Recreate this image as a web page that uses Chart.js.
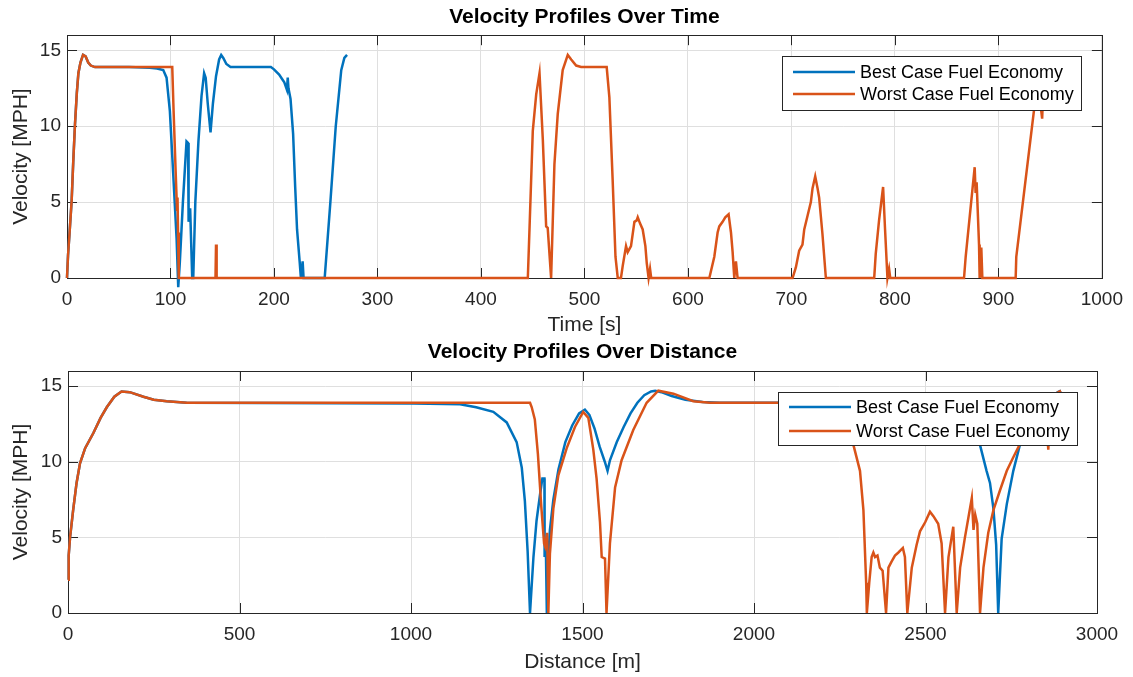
<!DOCTYPE html>
<html>
<head>
<meta charset="utf-8">
<script src="https://cdn.jsdelivr.net/npm/chart.js@4.4.1/dist/chart.umd.min.js"></script>
<style>
  html, body { margin: 0; padding: 0; background: #ffffff; }
  #wrap { position: relative; width: 1133px; height: 677px; background: #fff; }
  #c1 { position: absolute; left: 0; top: 0; }
  #c2 { position: absolute; left: 0; top: 338px; }
</style>
</head>
<body>
<div id="wrap">
  <canvas id="c1" width="1133" height="338"></canvas>
  <canvas id="c2" width="1133" height="339"></canvas>
</div>
<script>
// ---------------- DATA ----------------
const seriesLabels = ['Best Case Fuel Economy', 'Worst Case Fuel Economy'];

// Velocity over time – best case
const timeBestT = [
  0, 1, 2.5, 4.5, 6, 7.7, 9.5, 11, 13, 15.5,
  18, 20.5, 23, 27, 40, 60, 80, 87, 93, 96.2,
  99.4, 102.6, 105.9, 107.5, 109, 112, 115.5, 117, 117.5, 119,
  121, 122, 124, 127, 130, 132.5, 134, 136, 138.7, 141,
  144, 147, 149, 151, 154, 158, 165, 197, 200, 205,
  208, 210, 212.5, 213.3, 214, 216, 218.5, 220.5, 222.3, 224.8,
  226, 227.7, 228.6, 249, 254.5, 259.7, 265, 268, 270.6
];
const timeBestV = [
  0, 1.5, 3, 5.1, 7.6, 10.1, 12.2, 13.5, 14.2, 14.7,
  14.6, 14.2, 14.0, 13.9, 13.9, 13.9, 13.85, 13.8, 13.7, 13.2,
  11, 6.9, 2.6, -0.6, 1, 5, 9.0, 8.9, 3.7, 4.6,
  0, 0, 5, 9, 12, 13.5, 13.2, 11.5, 9.6, 11.5,
  13.3, 14.4, 14.7, 14.5, 14.1, 13.9, 13.9, 13.9, 13.75, 13.4,
  13.1, 12.9, 12.4, 13.2, 12.5, 11.8, 9.5, 6, 3.2, 1.1,
  0, 1.1, 0, 0, 5, 10, 13.7, 14.5, 14.7
];

// Velocity over time – worst case
const timeWorstT = [
  0, 1, 2.5, 4.5, 6, 7.7, 9.5, 11, 13, 15.5,
  18, 20.5, 23, 27, 101.7, 103, 105, 106.3, 106.8, 107.3,
  108, 143.5, 144, 144.6, 445.3, 446.9, 450.1, 453.4, 456.6, 459.8,
  463, 464.5, 467.8, 471, 474.2, 479, 483.9, 487.2, 492, 496.8,
  521.5, 524.1, 527.3, 530, 532.2, 535.3, 537, 540.2, 541.8, 545,
  548.3, 550.5, 551.5, 553.7, 556.3, 558.9, 560.2, 562, 563.4, 564.5,
  620.7, 625.5, 628.7, 630.3, 633.5, 636.1, 639.3, 641.6, 643.2, 644.8,
  646.4, 648, 701.1, 704.3, 707.5, 710.7, 712.4, 715.6, 718.8, 720.4,
  723, 725.3, 726.8, 730, 733.3, 780, 781.5, 784.7, 788.6, 790.5,
  792.8, 794.4, 795.5, 866.8, 868.4, 877.1, 878, 879, 881.3, 881.9,
  883.5, 884.5, 916.7, 917.3, 934.4, 938, 942.3, 944, 950
];
const timeWorstV = [
  0, 1.5, 3, 5.1, 7.6, 10.1, 12.2, 13.5, 14.2, 14.7,
  14.6, 14.2, 14.0, 13.9, 13.9, 11, 7, 4.5, 5.3, 3,
  0, 0, 2.2, 0, 0, 3.2, 9.7, 12.1, 13.5, 9.1,
  3.4, 3.3, 0, 7.5, 10.8, 13.7, 14.7, 14.4, 14.0, 13.9,
  13.9, 11.9, 6.4, 1.4, 0, 0, 0.8, 2.1, 1.7, 2.1,
  3.7, 3.8, 4.0, 3.6, 3.2, 2.1, 1.0, 0, 0.6, 0,
  0, 1.4, 3.0, 3.4, 3.7, 4.0, 4.2, 3.0, 1.7, 0,
  1.1, 0, 0, 0.7, 1.8, 2.2, 3.2, 4.1, 5.0, 5.9,
  6.7, 5.9, 5.3, 2.9, 0, 0, 1.6, 3.8, 6.0, 3.2,
  0, 0.6, 0, 0, 1.4, 7.3, 5.6, 6.3, 2.2, 0,
  2.0, 0, 0, 1.4, 11.05, 13, 10.5, 13.5, 14.6
];

// Velocity over distance – best case
const distBestD = [
  0, 2, 6, 15, 25, 35, 50, 74, 95, 113,
  135, 156, 180, 220, 250, 288, 346, 1007, 1143, 1190,
  1240, 1279, 1308, 1323, 1332, 1340, 1347, 1357, 1366, 1376,
  1383, 1389, 1389.5, 1393, 1396, 1400, 1405, 1415, 1430, 1450,
  1470, 1490, 1507, 1520, 1535, 1550, 1565, 1573, 1580, 1600,
  1620, 1640, 1660, 1680, 1700, 1712, 1730, 1760, 1800, 1850,
  1900, 2450, 2500, 2560, 2600, 2630, 2659, 2678, 2688, 2698,
  2706, 2712, 2722, 2737, 2756, 2775, 2800, 2830, 2860, 2886,
  2895
];
const distBestV = [
  2.2, 3.8, 5, 6.8, 8.6, 9.9, 10.9, 11.9, 12.9, 13.6,
  14.3, 14.65, 14.6, 14.3, 14.1, 14.0, 13.9, 13.85, 13.8, 13.6,
  13.3, 12.6, 11.3, 9.6, 7.4, 4.1, 0, 3.7, 6.1, 7.8,
  8.9, 8.9, 3.7, 4.6, 0, 3.5, 5.5, 7.5, 9.5, 11.3,
  12.4, 13.2, 13.45, 13.1, 12.2, 11, 10, 9.4, 10.1, 11.3,
  12.3, 13.2, 13.9, 14.4, 14.65, 14.7, 14.6, 14.35, 14.1, 13.95,
  13.9, 13.9, 13.7, 13.2, 12.6, 12, 11.1, 9.4, 8.6, 6.9,
  4.5, 0, 4.9, 7.2, 9.4, 11.1, 12.3, 13.5, 14.2, 14.6,
  14.7
];

// Velocity over distance – worst case
const distWorstD = [
  0, 2, 6, 15, 25, 35, 50, 74, 95, 113,
  135, 156, 180, 220, 250, 288, 346, 1347, 1352, 1361,
  1370, 1380, 1388, 1391, 1397, 1400.4, 1405, 1415, 1429.6, 1454,
  1478, 1502, 1517, 1531.5, 1541, 1551, 1556, 1565.6, 1570, 1580,
  1595, 1614, 1648, 1687, 1721, 1765, 1823, 1872, 2250, 2270,
  2290, 2309, 2319, 2327, 2329, 2336, 2343, 2348, 2353, 2360,
  2367, 2375, 2385, 2392, 2401, 2411, 2421, 2434, 2440, 2447,
  2460, 2474, 2484, 2499, 2513, 2523, 2537, 2547, 2557, 2567,
  2581, 2591, 2601, 2615, 2625, 2635, 2640, 2645, 2651, 2659,
  2669, 2683, 2698, 2717, 2737, 2756, 2776, 2800, 2830, 2850,
  2858, 2864, 2880, 2895
];
const distWorstV = [
  2.2, 3.8, 5, 6.8, 8.6, 9.9, 10.9, 11.9, 12.9, 13.6,
  14.3, 14.65, 14.6, 14.3, 14.1, 14.0, 13.9, 13.9, 13.6, 12.8,
  10.5, 7, 4.6, 4.4, 5.3, 0, 3.9, 6.9, 9.1, 10.9,
  12.3, 13.3, 12.9, 10.8, 8.9, 6.0, 3.7, 3.6, 0, 4.6,
  8.3, 10.1, 12.1, 13.9, 14.7, 14.5, 14.0, 13.9, 13.9, 13.3,
  11.1, 9.4, 6.8, 2.0, 0, 2.0, 3.7, 4.0, 3.7, 3.8,
  3.0, 2.8, 0, 3.0, 3.4, 3.8, 4.0, 4.3, 3.7, 0,
  3.0, 4.5, 5.4, 6.0, 6.7, 6.4, 5.9, 4.6, 0, 3.7,
  5.7, 0, 3.0, 5.0, 6.3, 7.6, 5.5, 6.5, 5.9, 0,
  3.0, 5.3, 6.8, 8.1, 9.4, 10.3, 11.2, 12.3, 13.2, 13.5,
  10.8, 13.8, 14.5, 14.7
];

// Tick values
const timeTicks = [0, 100, 200, 300, 400, 500, 600, 700, 800, 900, 1000];
const distTicks = [0, 500, 1000, 1500, 2000, 2500, 3000];
const velTicks = [0, 5, 10, 15];

// ---------------- STYLE ----------------
const BLUE = '#0072BD';
const ORANGE = '#D95319';
const AXIS = '#262626';
const GRID = '#dfdfdf';
const FONT = '"Liberation Sans", Arial, Helvetica, sans-serif';
Chart.defaults.font.family = FONT;

function pts(xs, ys) { return xs.map((x, i) => ({ x: x, y: ys[i] })); }

const boxPlugin = {
  id: 'matlabBox',
  beforeDatasetsDraw(chart) {
    const ctx = chart.ctx, a = chart.chartArea;
    const xs = chart.scales.x, ys = chart.scales.y;
    ctx.save();
    ctx.strokeStyle = AXIS;
    ctx.lineWidth = 1;
    ctx.strokeRect(Math.round(a.left) + 0.5, Math.round(a.top) + 0.5,
                   Math.round(a.right - a.left), Math.round(a.bottom - a.top));
    const L = 10;
    ctx.beginPath();
    xs.ticks.forEach(t => {
      const px = Math.round(xs.getPixelForValue(t.value)) + 0.5;
      ctx.moveTo(px, a.bottom); ctx.lineTo(px, a.bottom - L);
      ctx.moveTo(px, a.top); ctx.lineTo(px, a.top + L);
    });
    ys.ticks.forEach(t => {
      const py = Math.round(ys.getPixelForValue(t.value)) + 0.5;
      ctx.moveTo(a.left, py); ctx.lineTo(a.left + L, py);
      ctx.moveTo(a.right, py); ctx.lineTo(a.right - L, py);
    });
    ctx.stroke();
    ctx.restore();
  }
};

const legendPlugin = {
  id: 'insideLegend',
  afterDatasetsDraw(chart, args, opts) {
    if (!opts || !opts.show) return;
    const ctx = chart.ctx, a = chart.chartArea;
    const w = opts.width, h = opts.height;
    const x = Math.round(a.right - opts.insetRight - w);
    const y = Math.round(a.top + opts.insetTop);
    ctx.save();
    ctx.fillStyle = '#ffffff';
    ctx.fillRect(x, y, w, h);
    ctx.strokeStyle = AXIS;
    ctx.lineWidth = 1;
    ctx.strokeRect(x + 0.5, y + 0.5, w, h);
    const items = [
      { label: seriesLabels[0], color: BLUE },
      { label: seriesLabels[1], color: ORANGE }
    ];
    ctx.font = '18px ' + FONT;
    ctx.textBaseline = 'middle';
    ctx.textAlign = 'left';
    items.forEach((it, i) => {
      const ly = y + opts.rowY[i];
      ctx.strokeStyle = it.color;
      ctx.lineWidth = 2.5;
      ctx.beginPath();
      ctx.moveTo(x + 11, ly);
      ctx.lineTo(x + 73, ly);
      ctx.stroke();
      ctx.fillStyle = '#000000';
      ctx.fillText(it.label, x + 78, ly + 1);
    });
    ctx.restore();
  }
};

function makeChart(canvasId, cfg) {
  return new Chart(document.getElementById(canvasId), {
    type: 'line',
    data: {
      datasets: [
        { label: seriesLabels[0], data: cfg.best, borderColor: BLUE, backgroundColor: BLUE,
          borderWidth: 2.5, pointRadius: 0, tension: 0, order: 2, clip: false },
        { label: seriesLabels[1], data: cfg.worst, borderColor: ORANGE, backgroundColor: ORANGE,
          borderWidth: 2.5, pointRadius: 0, tension: 0, order: 1, clip: false }
      ]
    },
    options: {
      responsive: false,
      animation: false,
      devicePixelRatio: 1,
      events: [],
      layout: { padding: cfg.padding },
      plugins: {
        legend: { display: false },
        tooltip: { enabled: false },
        title: {
          display: true, text: cfg.title, fullSize: false,
          color: '#000000',
          font: { size: 21, weight: 'bold', family: FONT, lineHeight: 1.2 },
          padding: cfg.titlePad
        },
        insideLegend: cfg.legend
      },
      scales: {
        x: {
          type: 'linear', min: cfg.xMin, max: cfg.xMax,
          afterBuildTicks: s => { s.ticks = cfg.xTicks.map(v => ({ value: v })); },
          afterFit: s => { s.height = cfg.xAxisH; },
          ticks: { color: AXIS, font: { size: 19, family: FONT }, padding: cfg.xTickPad,
                   maxRotation: 0, autoSkip: false, callback: v => String(v) },
          grid: { color: GRID, lineWidth: 1, drawTicks: false },
          border: { display: false },
          title: { display: true, text: cfg.xTitle, color: AXIS,
                   font: { size: 21, family: FONT, lineHeight: 1.2 }, padding: { top: 0, bottom: 0 } }
        },
        y: {
          type: 'linear', min: 0, max: 16,
          afterBuildTicks: s => { s.ticks = velTicks.map(v => ({ value: v })); },
          afterFit: s => { s.width = cfg.yAxisW; },
          ticks: { color: AXIS, font: { size: 19, family: FONT }, padding: 6,
                   callback: v => String(v) },
          grid: { color: GRID, lineWidth: 1, drawTicks: false },
          border: { display: false },
          title: { display: true, text: 'Velocity [MPH]', color: AXIS,
                   font: { size: 21, family: FONT, lineHeight: 1.2 }, padding: { top: 9, bottom: 0 } }
        }
      }
    },
    plugins: [boxPlugin, legendPlugin]
  });
}

makeChart('c1', {
  best: pts(timeBestT, timeBestV),
  worst: pts(timeWorstT, timeWorstV),
  title: 'Velocity Profiles Over Time',
  titlePad: { top: 5, bottom: 5 },
  padding: { top: 0, right: 31, bottom: 0, left: 0 },
  xMin: 0, xMax: 1000, xTicks: timeTicks, xTitle: 'Time [s]',
  xAxisH: 60, yAxisW: 67, xTickPad: 10,
  legend: { show: true, width: 299, height: 54, insetRight: 21, insetTop: 21, rowY: [16, 38] }
});

makeChart('c2', {
  best: pts(distBestD, distBestV),
  worst: pts(distWorstD, distWorstV),
  title: 'Velocity Profiles Over Distance',
  titlePad: { top: 1.4, bottom: 6.4 },
  padding: { top: 0, right: 36, bottom: 2, left: 0 },
  xMin: 0, xMax: 3000, xTicks: distTicks, xTitle: 'Distance [m]',
  xAxisH: 62, yAxisW: 68, xTickPad: 10,
  legend: { show: true, width: 299, height: 53, insetRight: 20, insetTop: 21, rowY: [15, 39] }
});
</script>
</body>
</html>
